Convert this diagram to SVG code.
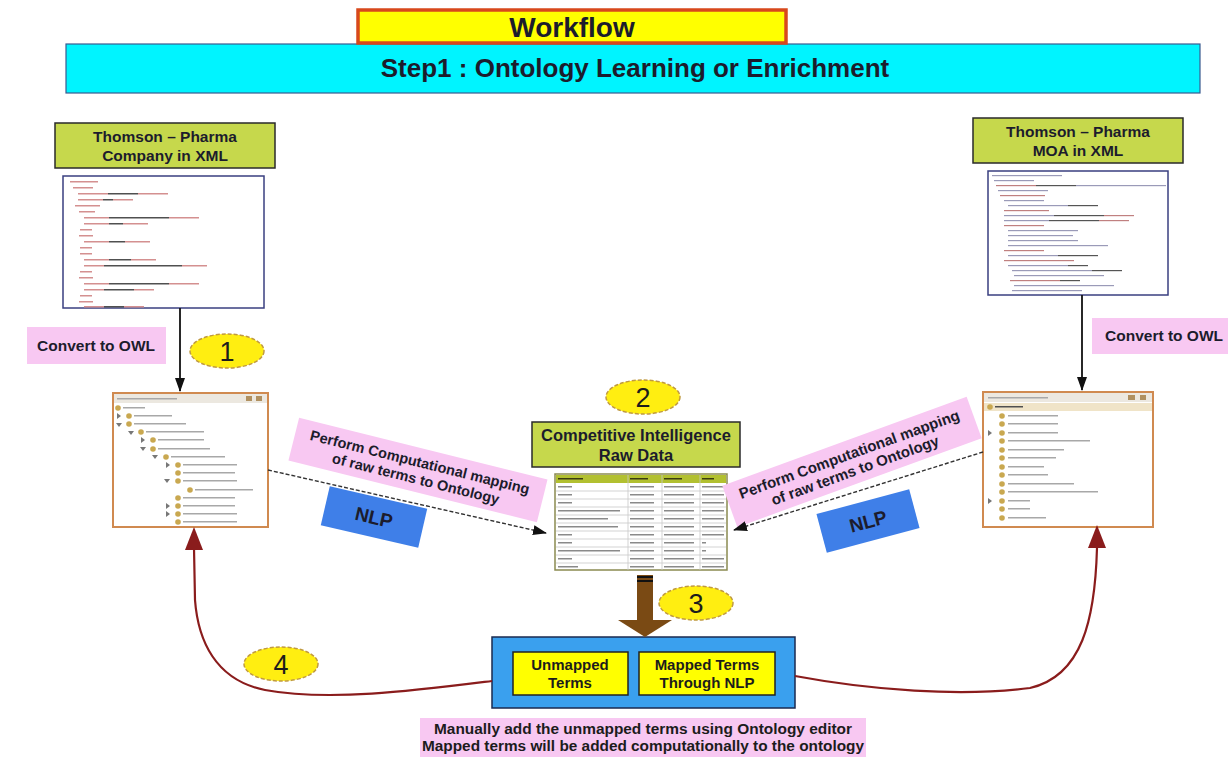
<svg xmlns="http://www.w3.org/2000/svg" width="1228" height="757" viewBox="0 0 1228 757">
<style>
.t{font-family:"Liberation Sans",Arial,sans-serif;font-weight:bold;fill:#1c1c2c;text-anchor:middle}
.n{font-family:"Liberation Sans Narrow","Liberation Sans",Arial,sans-serif;fill:#1c1c1c;text-anchor:middle}
.green{fill:#c6d84c;stroke:#2a2a2a;stroke-width:1.5}
.pink{fill:#f8c8f2}
.nlp{fill:#3f7fe8}
.ell{fill:#ffee11;stroke:#c09a40;stroke-width:1.5;stroke-dasharray:4 2}
.shot{fill:#fff;stroke:#3a3f80;stroke-width:1.5}
.onto{fill:#fff;stroke:#d08a50;stroke-width:2}
.tx{fill:#a8a8a8}
.tk{fill:#505050}
.tr{fill:#d49090}
.ic{fill:#c9a850}
.ar{fill:#777}
.dash{stroke:#333;stroke-width:1.4;stroke-dasharray:4 2;fill:none}
.curve{stroke:#8a1c1c;stroke-width:2.2;fill:none}
.grid{stroke:#c8c8c8;stroke-width:0.8}
</style>
<defs>
<marker id="ahd" markerWidth="14" markerHeight="10" refX="13" refY="5" orient="auto" markerUnits="userSpaceOnUse"><path d="M0,0 L14,5 L0,10 z" fill="#111"/></marker>
</defs>
<rect width="1228" height="757" fill="#fff"/>

<g id="step1">
<rect x="66" y="44" width="1134" height="49" fill="#00f4ff" stroke="#3a5a90" stroke-width="1.2"/>
<text class="t" x="635" y="77" font-size="26">Step1 : Ontology Learning or Enrichment</text>
</g>
<g id="workflow-title">
<rect x="358" y="10" width="428" height="33" fill="#ffff00" stroke="#d8481c" stroke-width="3.5"/>
<text class="t" x="572" y="37" font-size="28" fill="#111">Workflow</text>
</g>

<g id="company-xml-label">
<rect class="green" x="55" y="123" width="220" height="45"/>
<text class="t" x="165" y="142" font-size="15.5">Thomson – Pharma</text>
<text class="t" x="165" y="161" font-size="15.5">Company in XML</text>
</g>
<g id="company-xml">
<rect class="shot" x="63" y="176" width="201" height="132"/>
<g>
<rect class="tr" x="70" y="181" width="28" height="1.5"/>
<rect class="tr" x="73" y="187" width="20" height="1.5"/>
<rect class="tr" x="78" y="193" width="30" height="1.5"/><rect class="tk" x="108" y="193" width="30" height="1.5"/><rect class="tr" x="138" y="193" width="30" height="1.5"/>
<rect class="tr" x="78" y="199" width="25" height="1.5"/><rect class="tk" x="103" y="199" width="10" height="1.5"/><rect class="tr" x="113" y="199" width="20" height="1.5"/>
<rect class="tr" x="75" y="205" width="25" height="1.5"/>
<rect class="tr" x="79" y="211" width="16" height="1.5"/>
<rect class="tr" x="84" y="217" width="25" height="1.5"/><rect class="tk" x="109" y="217" width="60" height="1.5"/><rect class="tr" x="169" y="217" width="30" height="1.5"/>
<rect class="tr" x="84" y="223" width="25" height="1.5"/><rect class="tk" x="109" y="223" width="14" height="1.5"/><rect class="tr" x="123" y="223" width="25" height="1.5"/>
<rect class="tr" x="80" y="229" width="12" height="1.5"/>
<rect class="tr" x="79" y="235" width="14" height="1.5"/>
<rect class="tr" x="84" y="241" width="25" height="1.5"/><rect class="tk" x="109" y="241" width="16" height="1.5"/><rect class="tr" x="125" y="241" width="25" height="1.5"/>
<rect class="tr" x="80" y="247" width="12" height="1.5"/>
<rect class="tr" x="80" y="253" width="12" height="1.5"/>
<rect class="tr" x="84" y="259" width="25" height="1.5"/><rect class="tk" x="109" y="259" width="22" height="1.5"/><rect class="tr" x="131" y="259" width="25" height="1.5"/>
<rect class="tr" x="84" y="265" width="20" height="1.5"/><rect class="tk" x="104" y="265" width="78" height="1.5"/><rect class="tr" x="182" y="265" width="25" height="1.5"/>
<rect class="tr" x="80" y="271" width="12" height="1.5"/>
<rect class="tr" x="79" y="277" width="14" height="1.5"/>
<rect class="tr" x="84" y="283" width="25" height="1.5"/><rect class="tk" x="109" y="283" width="60" height="1.5"/><rect class="tr" x="169" y="283" width="30" height="1.5"/>
<rect class="tr" x="84" y="289" width="20" height="1.5"/><rect class="tk" x="104" y="289" width="30" height="1.5"/><rect class="tr" x="134" y="289" width="20" height="1.5"/>
<rect class="tr" x="80" y="295" width="12" height="1.5"/>
<rect class="tr" x="79" y="301" width="14" height="1.5"/>
<rect class="tr" x="84" y="306" width="20" height="1.5"/><rect class="tk" x="104" y="306" width="20" height="1.5"/><rect class="tr" x="124" y="306" width="20" height="1.5"/>
</g>
</g>
<g id="convert-left">
<rect class="pink" x="27" y="327" width="139" height="37"/>
<text class="t" x="96" y="351" font-size="15.5">Convert to OWL</text>
</g>
<g id="step-1">
<ellipse class="ell" cx="227" cy="351" rx="37" ry="17"/>
<text class="n" x="227" y="361" font-size="27">1</text>
</g>

<g id="ontology-left">
<rect class="onto" x="113" y="393" width="155" height="134"/>
<rect x="114" y="394" width="153" height="9" fill="#ece8e0"/>
<rect class="tx" x="117" y="398" width="60" height="1.5"/>
<rect x="246" y="396" width="6" height="5" fill="#b09060"/><rect x="256" y="396" width="6" height="5" fill="#b09060"/>
<circle class="ic" cx="118" cy="408" r="2.8"/><rect class="tx" x="123" y="407" width="22" height="1.5"/>
<path class="ar" d="M117,413 l4,3 l-4,3z"/><circle class="ic" cx="129" cy="416" r="2.8"/><rect class="tx" x="134" y="415" width="38" height="1.5"/>
<path class="ar" d="M116,423 l6,0 l-3,4z"/><circle class="ic" cx="129" cy="424" r="2.8"/><rect class="tx" x="134" y="423" width="52" height="1.5"/>
<path class="ar" d="M128,431 l6,0 l-3,4z"/><circle class="ic" cx="141" cy="432" r="2.8"/><rect class="tx" x="146" y="431" width="58" height="1.5"/>
<path class="ar" d="M141,437 l4,3 l-4,3z"/><circle class="ic" cx="153" cy="440" r="2.8"/><rect class="tx" x="158" y="439" width="46" height="1.5"/>
<path class="ar" d="M140,447 l6,0 l-3,4z"/><circle class="ic" cx="153" cy="449" r="2.8"/><rect class="tx" x="158" y="448" width="52" height="1.5"/>
<path class="ar" d="M152,455 l6,0 l-3,4z"/><circle class="ic" cx="166" cy="457" r="2.8"/><rect class="tx" x="171" y="456" width="54" height="1.5"/>
<path class="ar" d="M166,462 l4,3 l-4,3z"/><circle class="ic" cx="178" cy="465" r="2.8"/><rect class="tx" x="183" y="464" width="54" height="1.5"/>
<circle class="ic" cx="178" cy="473" r="2.8"/><rect class="tx" x="183" y="472" width="52" height="1.5"/>
<path class="ar" d="M164,479 l6,0 l-3,4z"/><circle class="ic" cx="178" cy="481" r="2.8"/><rect class="tx" x="183" y="480" width="54" height="1.5"/>
<circle class="ic" cx="190" cy="490" r="2.8"/><rect class="tx" x="195" y="489" width="58" height="1.5"/>
<circle class="ic" cx="178" cy="498" r="2.8"/><rect class="tx" x="183" y="497" width="52" height="1.5"/>
<path class="ar" d="M166,503 l4,3 l-4,3z"/><circle class="ic" cx="178" cy="506" r="2.8"/><rect class="tx" x="183" y="505" width="52" height="1.5"/>
<path class="ar" d="M166,511 l4,3 l-4,3z"/><circle class="ic" cx="178" cy="514" r="2.8"/><rect class="tx" x="183" y="513" width="54" height="1.5"/>
<circle class="ic" cx="178" cy="522" r="2.8"/><rect class="tx" x="183" y="521" width="54" height="1.5"/>
</g>

<g id="mapping-left">
<g transform="translate(418,470) rotate(14)">
<rect class="pink" x="-128" y="-22" width="256" height="44"/>
<text class="t" x="0" y="-3" font-size="14.5">Perform Computational mapping</text>
<text class="t" x="0" y="14" font-size="14.5">of raw terms to Ontology</text>
</g>
</g>
<g id="nlp-left">
<g transform="translate(374,517) rotate(13)">
<rect class="nlp" x="-50" y="-20" width="100" height="40"/>
<text class="t" x="0" y="7" font-size="19">NLP</text>
</g>
</g>

<g id="step-2">
<ellipse class="ell" cx="643" cy="397" rx="37" ry="17"/>
<text class="n" x="643" y="407" font-size="27">2</text>
</g>
<g id="ci-label">
<rect class="green" x="532" y="422" width="208" height="45"/>
<text class="t" x="636" y="441" font-size="16.5">Competitive Intelligence</text>
<text class="t" x="636" y="461" font-size="16.5">Raw Data</text>
</g>
<g id="ci-table">
<rect x="555" y="474" width="172" height="96" fill="#fff" stroke="#8a8a50" stroke-width="1.5"/>
<rect x="556" y="475" width="170" height="8" fill="#b2c030"/>
<g class="grid">
<line x1="556" y1="491" x2="726" y2="491"/><line x1="556" y1="499" x2="726" y2="499"/>
<line x1="556" y1="507" x2="726" y2="507"/><line x1="556" y1="515" x2="726" y2="515"/>
<line x1="556" y1="523" x2="726" y2="523"/><line x1="556" y1="531" x2="726" y2="531"/>
<line x1="556" y1="539" x2="726" y2="539"/><line x1="556" y1="547" x2="726" y2="547"/>
<line x1="556" y1="555" x2="726" y2="555"/><line x1="556" y1="563" x2="726" y2="563"/>
<line x1="628" y1="475" x2="628" y2="570"/><line x1="662" y1="475" x2="662" y2="570"/><line x1="700" y1="475" x2="700" y2="570"/>
</g>
<g fill="#8a8a8a">
<rect x="558" y="478" width="25" height="1.5" fill="#3a3a10"/><rect x="630" y="478" width="18" height="1.5" fill="#3a3a10"/><rect x="664" y="478" width="18" height="1.5" fill="#3a3a10"/><rect x="702" y="478" width="12" height="1.5" fill="#3a3a10"/>
<rect x="558" y="486" width="14" height="1.5"/><rect x="630" y="486" width="24" height="1.5"/><rect x="664" y="486" width="30" height="1.5"/><rect x="702" y="486" width="22" height="1.5"/>
<rect x="558" y="494" width="14" height="1.5"/><rect x="630" y="494" width="24" height="1.5"/><rect x="664" y="494" width="30" height="1.5"/><rect x="702" y="494" width="22" height="1.5"/>
<rect x="558" y="502" width="14" height="1.5"/><rect x="630" y="502" width="24" height="1.5"/><rect x="664" y="502" width="30" height="1.5"/><rect x="702" y="502" width="22" height="1.5"/>
<rect x="558" y="510" width="62" height="1.5"/><rect x="630" y="510" width="24" height="1.5"/><rect x="664" y="510" width="30" height="1.5"/><rect x="702" y="510" width="22" height="1.5"/>
<rect x="558" y="518" width="50" height="1.5"/><rect x="630" y="518" width="24" height="1.5"/><rect x="664" y="518" width="30" height="1.5"/><rect x="702" y="518" width="22" height="1.5"/>
<rect x="558" y="526" width="60" height="1.5"/><rect x="630" y="526" width="24" height="1.5"/><rect x="664" y="526" width="30" height="1.5"/><rect x="702" y="526" width="22" height="1.5"/>
<rect x="558" y="534" width="14" height="1.5"/><rect x="630" y="534" width="24" height="1.5"/><rect x="664" y="534" width="30" height="1.5"/><rect x="702" y="534" width="22" height="1.5"/>
<rect x="558" y="542" width="14" height="1.5"/><rect x="630" y="542" width="24" height="1.5"/><rect x="664" y="542" width="30" height="1.5"/><rect x="702" y="542" width="4" height="1.5"/>
<rect x="558" y="550" width="62" height="1.5"/><rect x="630" y="550" width="24" height="1.5"/><rect x="664" y="550" width="30" height="1.5"/><rect x="702" y="550" width="4" height="1.5"/>
<rect x="558" y="558" width="14" height="1.5"/><rect x="630" y="558" width="24" height="1.5"/><rect x="664" y="558" width="30" height="1.5"/><rect x="702" y="558" width="22" height="1.5"/>
<rect x="558" y="566" width="20" height="1.5"/><rect x="630" y="566" width="24" height="1.5"/><rect x="664" y="566" width="30" height="1.5"/><rect x="702" y="566" width="22" height="1.5"/>
</g>
</g>

<g id="moa-xml-label">
<rect class="green" x="973" y="118" width="210" height="45"/>
<text class="t" x="1078" y="137" font-size="15.5">Thomson – Pharma</text>
<text class="t" x="1078" y="156" font-size="15.5">MOA  in XML</text>
</g>
<g id="moa-xml">
<rect class="shot" x="988" y="171" width="180" height="124"/>
<g fill="#9a9ab8">
<rect x="992" y="175" width="70" height="1.2"/>
<rect x="994" y="180" width="40" height="1.2"/>
<rect x="996" y="185" width="40" height="1.2" fill="#c08080"/><rect x="1036" y="185" width="40" height="1.2" fill="#555"/><rect x="1076" y="185" width="90" height="1.2"/>
<rect x="998" y="190" width="50" height="1.2"/>
<rect x="1000" y="195" width="45" height="1.2" fill="#c08080"/>
<rect x="1004" y="200" width="40" height="1.2"/>
<rect x="1008" y="205" width="60" height="1.2"/><rect x="1068" y="205" width="30" height="1.2" fill="#555"/>
<rect x="1004" y="210" width="45" height="1.2" fill="#c08080"/>
<rect x="1004" y="215" width="50" height="1.2"/><rect x="1054" y="215" width="50" height="1.2" fill="#555"/><rect x="1104" y="215" width="30" height="1.2" fill="#c08080"/>
<rect x="1004" y="220" width="45" height="1.2"/><rect x="1049" y="220" width="50" height="1.2" fill="#555"/><rect x="1099" y="220" width="30" height="1.2" fill="#c08080"/>
<rect x="1004" y="225" width="40" height="1.2" fill="#c08080"/>
<rect x="1008" y="230" width="70" height="1.2"/>
<rect x="1008" y="235" width="65" height="1.2"/>
<rect x="1008" y="240" width="70" height="1.2"/>
<rect x="1008" y="245" width="100" height="1.2"/>
<rect x="1004" y="250" width="40" height="1.2" fill="#c08080"/>
<rect x="1008" y="255" width="50" height="1.2"/><rect x="1058" y="255" width="40" height="1.2" fill="#555"/>
<rect x="1004" y="260" width="70" height="1.2" fill="#c08080"/>
<rect x="1008" y="265" width="60" height="1.2"/><rect x="1068" y="265" width="20" height="1.2" fill="#555"/>
<rect x="1012" y="270" width="80" height="1.2"/><rect x="1092" y="270" width="30" height="1.2" fill="#555"/>
<rect x="1014" y="275" width="90" height="1.2"/>
<rect x="1010" y="280" width="50" height="1.2" fill="#c08080"/><rect x="1060" y="280" width="20" height="1.2" fill="#555"/>
<rect x="1014" y="285" width="100" height="1.2"/>
<rect x="1012" y="290" width="70" height="1.2"/>
</g>
</g>
<g id="convert-right">
<rect class="pink" x="1092" y="318" width="136" height="36"/>
<text class="t" x="1164" y="341" font-size="15.5">Convert to OWL</text>
</g>

<g id="ontology-right">
<rect class="onto" x="983" y="392" width="170" height="135"/>
<rect x="984" y="393" width="168" height="9" fill="#ece8e0"/>
<rect class="tx" x="988" y="397" width="60" height="1.5"/>
<rect x="1128" y="395" width="7" height="5" fill="#b09060"/><rect x="1140" y="395" width="6" height="5" fill="#b09060"/>
<rect x="984" y="403" width="168" height="8" fill="#f0e4c8"/>
<circle class="ic" cx="990" cy="407" r="2.8"/><rect class="tk" x="995" y="406" width="28" height="1.5"/>
<circle class="ic" cx="1002" cy="416" r="2.8"/><rect class="tx" x="1008" y="415" width="50" height="1.5"/>
<circle class="ic" cx="1002" cy="424" r="2.8"/><rect class="tx" x="1008" y="423" width="50" height="1.5"/>
<path class="ar" d="M988,430 l4,3 l-4,3z"/><circle class="ic" cx="1002" cy="433" r="2.8"/><rect class="tx" x="1008" y="432" width="50" height="1.5"/>
<circle class="ic" cx="1002" cy="441" r="2.8"/><rect class="tx" x="1008" y="440" width="82" height="1.5"/>
<circle class="ic" cx="1002" cy="450" r="2.8"/><rect class="tx" x="1008" y="449" width="56" height="1.5"/>
<circle class="ic" cx="1002" cy="458" r="2.8"/><rect class="tx" x="1008" y="457" width="48" height="1.5"/>
<circle class="ic" cx="1002" cy="467" r="2.8"/><rect class="tx" x="1008" y="466" width="36" height="1.5"/>
<circle class="ic" cx="1002" cy="475" r="2.8"/><rect class="tx" x="1008" y="474" width="40" height="1.5"/>
<circle class="ic" cx="1002" cy="484" r="2.8"/><rect class="tx" x="1008" y="483" width="66" height="1.5"/>
<circle class="ic" cx="1002" cy="492" r="2.8"/><rect class="tx" x="1008" y="491" width="90" height="1.5"/>
<path class="ar" d="M988,498 l4,3 l-4,3z"/><circle class="ic" cx="1002" cy="501" r="2.8"/><rect class="tx" x="1008" y="500" width="22" height="1.5"/>
<circle class="ic" cx="1002" cy="509" r="2.8"/><rect class="tx" x="1008" y="508" width="22" height="1.5"/>
<circle class="ic" cx="1002" cy="518" r="2.8"/><rect class="tx" x="1008" y="517" width="38" height="1.5"/>
</g>

<g id="mapping-right">
<g transform="translate(852,462) rotate(-20)">
<rect class="pink" x="-130" y="-22" width="260" height="44"/>
<text class="t" x="0" y="-3" font-size="15">Perform Computational mapping</text>
<text class="t" x="0" y="14" font-size="15">of raw terms to Ontology</text>
</g>
</g>
<g id="nlp-right">
<g transform="translate(868,521) rotate(-15)">
<rect class="nlp" x="-48" y="-20" width="96" height="40"/>
<text class="t" x="0" y="7" font-size="19">NLP</text>
</g>
</g>

<g id="step-3">
<ellipse class="ell" cx="696" cy="603" rx="37" ry="17"/>
<text class="n" x="696" y="613" font-size="27">3</text>
</g>

<g id="terms">
<rect x="492" y="637" width="303" height="71" fill="#3aa0ee" stroke="#1a2a50" stroke-width="1.5"/>
<rect x="513" y="652" width="115" height="43" fill="#ffff00" stroke="#222" stroke-width="1.5"/>
<text class="n" font-weight="bold" x="570" y="670" font-size="15">Unmapped</text>
<text class="n" font-weight="bold" x="570" y="688" font-size="15">Terms</text>
<rect x="639" y="652" width="136" height="43" fill="#ffff00" stroke="#222" stroke-width="1.5"/>
<text class="n" font-weight="bold" x="707" y="670" font-size="15">Mapped Terms</text>
<text class="n" font-weight="bold" x="707" y="688" font-size="15">Through NLP</text>
</g>

<g id="step-4">
<ellipse class="ell" cx="281" cy="664" rx="37" ry="17"/>
<text class="n" x="281" y="674" font-size="27">4</text>
</g>

<g id="note">
<rect class="pink" x="420" y="718" width="446" height="39"/>
<text class="n" font-weight="bold" x="643" y="734" font-size="14.5" fill="#1a1a50" textLength="418" lengthAdjust="spacingAndGlyphs">Manually add the unmapped terms using Ontology editor</text>
<text class="n" font-weight="bold" x="643" y="751" font-size="14.5" fill="#1a1a50" textLength="442" lengthAdjust="spacingAndGlyphs">Mapped terms will be added computationally to the ontology</text>
</g>

<g id="connectors">
<line x1="180" y1="308" x2="180" y2="391" stroke="#111" stroke-width="1.8" marker-end="url(#ahd)"/>
<line x1="1082" y1="295" x2="1082" y2="390" stroke="#111" stroke-width="1.8" marker-end="url(#ahd)"/>
<line class="dash" x1="268" y1="470" x2="546" y2="533" marker-end="url(#ahd)"/>
<line class="dash" x1="983" y1="452" x2="734" y2="530" marker-end="url(#ahd)"/>
<rect x="637" y="575" width="16" height="47" fill="#7a4a14"/>
<rect x="637" y="576" width="16" height="2" fill="#111"/>
<rect x="637" y="580" width="16" height="2" fill="#111"/>
<path d="M618,620 L672,620 L645,637 z" fill="#7a4a14"/>
<path class="curve" d="M492,681 C420,690 330,702 265,690 C215,680 198,640 195,600 L194,548"/>
<path d="M194,527 L185,550 L203,550 z" fill="#8a1c1c"/>
<path class="curve" d="M795,676 C870,690 960,697 1030,688 C1082,676 1095,620 1097,548"/>
<path d="M1097,525 L1088,548 L1106,548 z" fill="#8a1c1c"/>
</g>
</svg>
